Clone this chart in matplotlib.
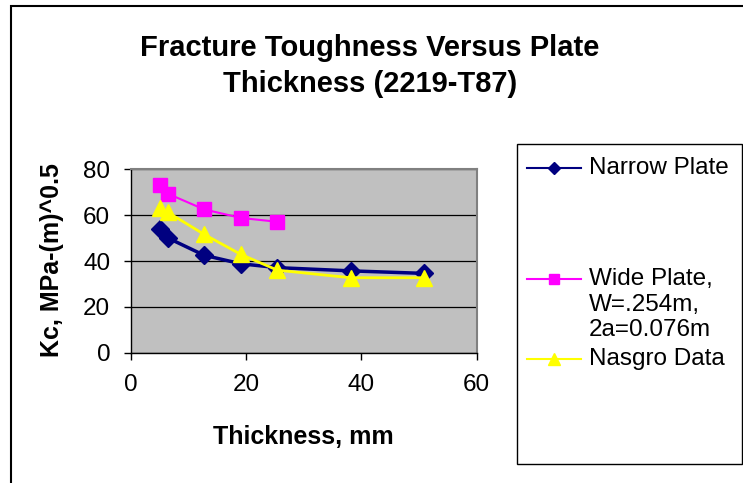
import matplotlib
matplotlib.use("Agg")
import matplotlib.pyplot as plt
from matplotlib.lines import Line2D
from matplotlib.patches import Rectangle

# Data
narrow_t = [5.1, 6.35, 12.7, 19.05, 25.4, 38.1, 50.8]
narrow_kc = [53.8, 50.1, 42.5, 38.8, 37.1, 35.7, 34.6]

wide_t = [5.1, 6.35, 12.7, 19.05, 25.4]
wide_kc = [73.0, 69.4, 62.5, 58.8, 57.1]

nasgro_t = [5.1, 6.35, 12.7, 19.05, 25.4, 38.1, 50.8]
nasgro_kc = [63.2, 61.3, 51.6, 42.9, 36.0, 32.7, 32.7]

x_ticks = [0, 20, 40, 60]
y_ticks = [0, 20, 40, 60, 80]

W, H = 743, 483
plt.rcParams['font.family'] = ['Liberation Sans', 'DejaVu Sans']
fig = plt.figure(figsize=(W / 100, H / 100), dpi=100)
fig.patch.set_facecolor("white")

def fx(px):
    return px / W

def fy(py):
    return 1 - py / H

# outer chart frame (right/bottom edges fall outside the picture)
fig.add_artist(Rectangle((fx(11), fy(500)), fx(800), (500 - 6) / H,
                         transform=fig.transFigure, fill=False,
                         edgecolor="black", linewidth=1.5))

ax = fig.add_axes([fx(131), fy(352.7), fx(476.7 - 131), (352.7 - 169.3) / H])
ax.set_facecolor("#C0C0C0")
ax.set_xlim(0, 60)
ax.set_ylim(0, 80)
ax.set_xticks(x_ticks)
ax.set_yticks(y_ticks)
ax.grid(axis="y", color="black", linewidth=0.9)
ax.set_axisbelow(True)
for s in ["top", "right"]:
    ax.spines[s].set_color("#808080")
    ax.spines[s].set_linewidth(1.5)
for s in ["left", "bottom"]:
    ax.spines[s].set_color("black")
    ax.spines[s].set_linewidth(1.0)
ax.tick_params(direction="out", length=5, width=1, labelsize=17.5)
ax.tick_params(axis="x", pad=10)
ax.tick_params(axis="y", pad=10)

ax.plot(narrow_t, narrow_kc, color="#000080", marker="D", markersize=9,
        linewidth=2.5, zorder=3)
ax.plot(wide_t, wide_kc, color="#FF00FF", marker="s", markersize=10,
        linewidth=1.5, zorder=3)
ax.plot(nasgro_t, nasgro_kc, color="#FFFF00", marker="^", markersize=12,
        linewidth=2, zorder=4)

fig.text(fx(370), fy(56), "Fracture Toughness Versus Plate", ha="center",
         va="baseline", fontsize=21, fontweight="bold")
fig.text(fx(370), fy(92), "Thickness (2219-T87)", ha="center",
         va="baseline", fontsize=21, fontweight="bold")
fig.text(fx(303), fy(437), "Thickness, mm", ha="center", va="center",
         fontsize=18, fontweight="bold")
fig.text(fx(52), fy(260), "Kc, MPa-(m)^0.5", ha="center", va="center",
         rotation=90, fontsize=18, fontweight="bold")

# legend box
fig.add_artist(Rectangle((fx(517), fy(464)), fx(742 - 517), (464 - 144) / H,
                         transform=fig.transFigure, facecolor="white",
                         edgecolor="black", linewidth=1.0))
entries = [
    ("#000080", "D", 6, 168, ["Narrow Plate"]),
    ("#FF00FF", "s", 7, 279, ["Wide Plate,", "W=.254m,", "2a=0.076m"]),
    ("#FFFF00", "^", 9, 359, ["Nasgro Data"]),
]
for color, mk, ms, py, lines in entries:
    fig.add_artist(Line2D([fx(527), fx(581)], [fy(py), fy(py)],
                          transform=fig.transFigure, color=color, linewidth=1.5))
    fig.add_artist(Line2D([fx(554)], [fy(py)], transform=fig.transFigure,
                          color=color, marker=mk, markersize=ms, linestyle="none"))
    for i, line in enumerate(lines):
        fig.text(fx(589), fy(py + 6 + 25.5 * i), line, ha="left",
                 va="baseline", fontsize=17.5)

fig.savefig("out.png", dpi=100)
